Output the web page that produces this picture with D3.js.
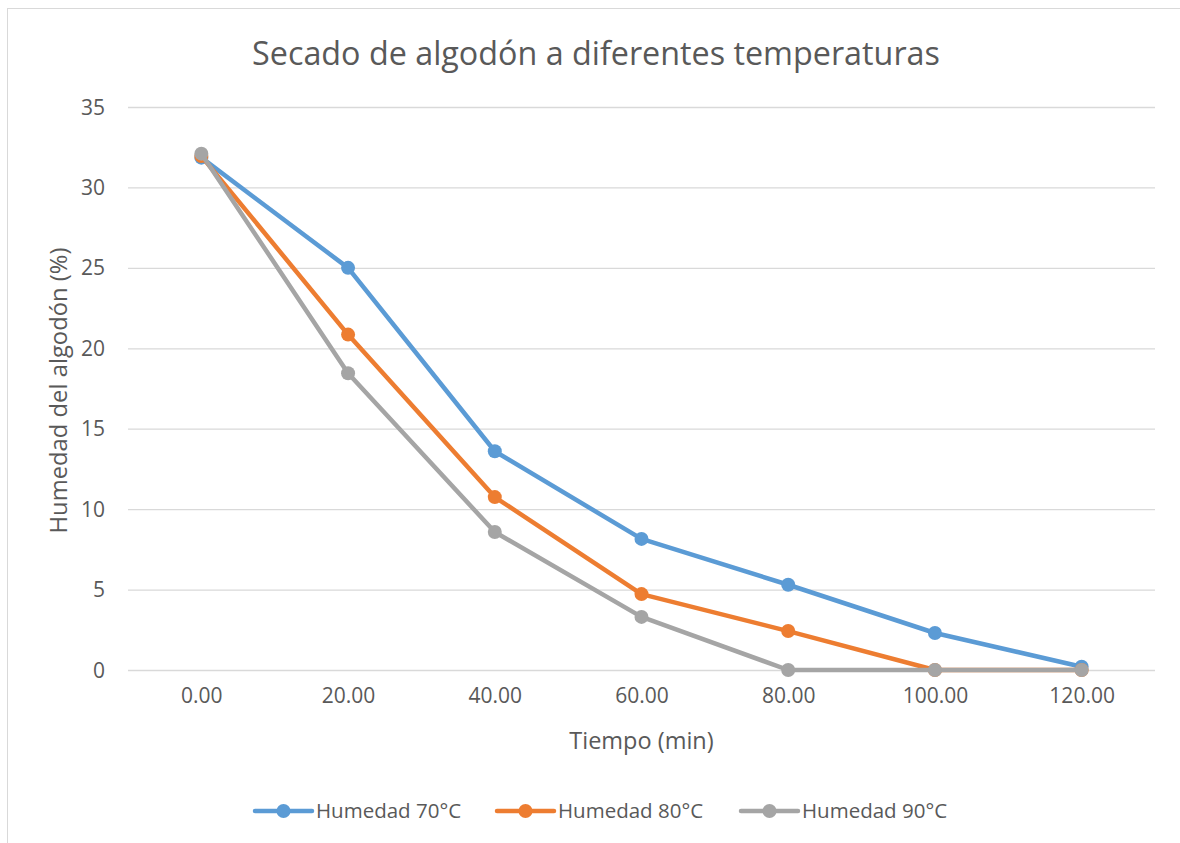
<!DOCTYPE html>
<html>
<head>
<meta charset="utf-8">
<script src="https://cdn.jsdelivr.net/npm/d3@7"></script>
<style>
  html, body { margin: 0; padding: 0; background: #fff; }
  svg { display: block; }
  text { font-family: "Open Sans", sans-serif; fill: #595959; }
</style>
</head>
<body>
<svg id="chart" width="1180" height="843"></svg>
<script>
// ---- Data ----
const categories = ["0.00", "20.00", "40.00", "60.00", "80.00", "100.00", "120.00"];
const humedad70 = [31.85, 25.0, 13.6, 8.15, 5.3, 2.3, 0.2];
const humedad80 = [31.95, 20.85, 10.75, 4.72, 2.42, 0.0, 0.0];
const humedad90 = [32.1, 18.45, 8.58, 3.3, 0.0, 0.0, 0.0];
const seriesNames = ["Humedad 70°C", "Humedad 80°C", "Humedad 90°C"];
const yTicks = [0, 5, 10, 15, 20, 25, 30, 35];
const titleText = "Secado de algodón a diferentes temperaturas";
const xTitle = "Tiempo (min)";
const yTitle = "Humedad del algodón (%)";

const series = [
  { name: seriesNames[0], values: humedad70, color: "#5B9BD5" },
  { name: seriesNames[1], values: humedad80, color: "#ED7D31" },
  { name: seriesNames[2], values: humedad90, color: "#A5A5A5" }
];

const svg = d3.select("#chart");

// chart border
svg.append("rect")
  .attr("x", 7.5).attr("y", 8.5)
  .attr("width", 1200).attr("height", 900)
  .attr("fill", "#fff").attr("stroke", "#D9D9D9").attr("stroke-width", 1);

const plot = { left: 128, right: 1155, top: 107, bottom: 670 };

const x = d3.scalePoint().domain(categories).range([plot.left, plot.right]).padding(0.5);
const y = d3.scaleLinear().domain([0, 35]).range([plot.bottom, plot.top]);

// gridlines
const yAxis = d3.axisLeft(y).tickValues(yTicks).tickSize(-(plot.right - plot.left)).tickPadding(23).tickFormat(d3.format("d"));
const gy = svg.append("g").attr("transform", `translate(${plot.left},0)`).call(yAxis);
gy.select(".domain").remove();
gy.selectAll(".tick line").attr("stroke", "#D9D9D9").attr("stroke-width", 1.3);
gy.selectAll(".tick text").attr("font-size", 21).attr("font-family", "Open Sans").attr("fill", "#595959").attr("dy", "0.34em");

// x axis labels
const xAxis = d3.axisBottom(x).tickSize(0).tickPadding(20);
const gx = svg.append("g").attr("transform", `translate(0,${plot.bottom})`).call(xAxis);
gx.select(".domain").remove();
gx.selectAll(".tick text").attr("font-size", 21).attr("font-family", "Open Sans").attr("fill", "#595959").attr("dy", "0.6em");

// lines
const line = d3.line().x((d, i) => x(categories[i])).y(d => y(d));
series.forEach(s => {
  const g = svg.append("g");
  g.append("path")
    .attr("d", line(s.values))
    .attr("fill", "none")
    .attr("stroke", s.color)
    .attr("stroke-width", 4.5)
    .attr("stroke-linejoin", "round")
    .attr("stroke-linecap", "round");
  g.selectAll("circle").data(s.values).join("circle")
    .attr("cx", (d, i) => x(categories[i]))
    .attr("cy", d => y(d))
    .attr("r", 7)
    .attr("fill", s.color);
});

// title
svg.append("text")
  .attr("x", 596).attr("y", 65)
  .attr("text-anchor", "middle")
  .attr("font-size", 32.3)
  .text(titleText);

// axis titles
svg.append("text")
  .attr("x", (plot.left + plot.right) / 2).attr("y", 749)
  .attr("text-anchor", "middle")
  .attr("font-size", 23.5)
  .text(xTitle);

svg.append("text")
  .attr("transform", `translate(67,${(plot.top + plot.bottom) / 2 + 2}) rotate(-90)`)
  .attr("text-anchor", "middle")
  .attr("font-size", 23.8)
  .text(yTitle);

// legend
const legendX = [255, 497, 741];
const legendY = 811;
series.forEach((s, i) => {
  const g = svg.append("g").attr("transform", `translate(${legendX[i]},${legendY})`);
  g.append("line").attr("x1", 0).attr("x2", 57).attr("y1", 0).attr("y2", 0)
    .attr("stroke", s.color).attr("stroke-width", 4.5).attr("stroke-linecap", "round");
  g.append("circle").attr("cx", 28.5).attr("cy", 0).attr("r", 7).attr("fill", s.color);
  g.append("text").attr("x", 61).attr("y", 0).attr("dy", "0.35em")
    .attr("font-size", 20.5).text(s.name);
});
</script>
</body>
</html>
